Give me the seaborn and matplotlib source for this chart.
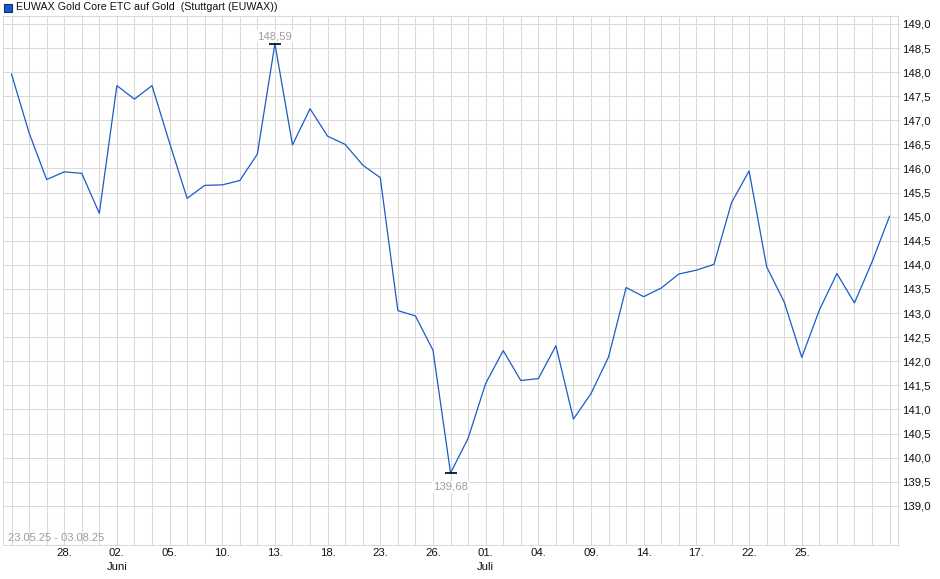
import numpy as np
import pandas as pd
import seaborn as sns
import matplotlib.pyplot as plt
from matplotlib.patches import Rectangle

# Kursverlauf EUWAX Gold Core ETC (Handelstage 23.05.25 - 01.08.25)
trade_days = pd.bdate_range('2025-05-23', '2025-08-01')
prices = [147.96, 146.74, 145.77, 145.93, 145.90, 145.07, 147.72, 147.44, 147.72, 146.53,
          145.38, 145.65, 145.66, 145.75, 146.30, 148.59, 146.49, 147.24, 146.67, 146.50,
          146.07, 145.81, 143.05, 142.94, 142.23, 139.68, 140.40, 141.54, 142.22, 141.60,
          141.64, 142.32, 140.80, 141.33, 142.09, 143.53, 143.34, 143.52, 143.81, 143.89,
          144.01, 145.29, 145.95, 143.96, 143.23, 142.08, 143.06, 143.82, 143.21, 144.06,
          145.01]

label_dates = ['2025-05-28', '2025-06-02', '2025-06-05', '2025-06-10', '2025-06-13',
               '2025-06-18', '2025-06-23', '2025-06-26', '2025-07-01', '2025-07-04',
               '2025-07-09', '2025-07-14', '2025-07-17', '2025-07-22', '2025-07-25']
label_texts = ['28.', '02.\nJuni', '05.', '10.', '13.', '18.', '23.', '26.',
               '01.\nJuli', '04.', '09.', '14.', '17.', '22.', '25.']
y_ticks = np.arange(139.0, 149.01, 0.5)

title = 'EUWAX Gold Core ETC auf Gold  (Stuttgart (EUWAX))'
range_text = '23.05.25 - 03.08.25'

line_col = '#1c5bc6'
grid_col = '#d9d9d9'
note_col = '#a29d97'

df = pd.DataFrame({'tag': np.arange(len(trade_days)), 'kurs': prices})

sns.set_style('white')
plt.rcParams['font.family'] = ['Liberation Sans', 'DejaVu Sans']

fig = plt.figure(figsize=(9.4, 5.79), dpi=100)
ax = fig.add_axes([0.0029, 0.0582, 0.9528, 0.9142])

sns.lineplot(data=df, x='tag', y='kurs', color=line_col, linewidth=0.9, ax=ax)

ax.set_xlim(-0.5, len(prices) - 0.5)
ax.set_ylim(138.18, 149.165)

# x-Achse: Gitter an jedem Handelstag, Beschriftung nur an ausgewaehlten Tagen
pos_map = {d.strftime('%Y-%m-%d'): i for i, d in enumerate(trade_days)}
all_labels = [''] * len(trade_days)
for d, t in zip(label_dates, label_texts):
    all_labels[pos_map[d]] = t
ax.set_xticks(df['tag'])
ax.set_xticklabels(all_labels, fontsize=8.2, color='#111111', linespacing=1.5)

ax.yaxis.tick_right()
ax.set_yticks(y_ticks)
ax.set_yticklabels([f'{v:.1f}'.replace('.', ',') for v in y_ticks], fontsize=8.2, color='#111111')

ax.tick_params(axis='both', length=1.5, width=0.7, color=grid_col)
ax.tick_params(axis='x', pad=0.5)
ax.tick_params(axis='y', pad=1.2)
ax.grid(True, color=grid_col, linewidth=0.75)
ax.set_axisbelow(True)
for s in ax.spines.values():
    s.set_color(grid_col)
    s.set_linewidth(0.75)
ax.set_xlabel('')
ax.set_ylabel('')

# Hoch- und Tiefpunkt markieren
i_max = int(np.argmax(prices))
i_min = int(np.argmin(prices))
for i, off, va in [(i_max, 1.8, 'bottom'), (i_min, -6.3, 'top')]:
    ax.plot(i, prices[i], marker='_', markersize=9, mew=1.2, color='black', zorder=4)
    ax.annotate(f'{prices[i]:.2f}'.replace('.', ','), (i, prices[i]),
                xytext=(0, off), textcoords='offset points', ha='center', va=va,
                fontsize=8.2, color=note_col, zorder=5,
                bbox=dict(boxstyle='square,pad=0.1', fc='white', ec='none'))

ax.text(0.006, 0.014, range_text, transform=ax.transAxes, fontsize=8.0,
        color=note_col, ha='left', va='center')

# Legende oben links
fig.patches.append(Rectangle((4 / 940, 1 - 12 / 579), 8 / 940, 8 / 579,
                             transform=fig.transFigure, fc=line_col, ec='#0d2f73', lw=0.8))
fig.text(16 / 940, 1 - 7.5 / 579, title, fontsize=7.7, color='#111111', ha='left', va='center')

fig.savefig('out.png', dpi=100)
